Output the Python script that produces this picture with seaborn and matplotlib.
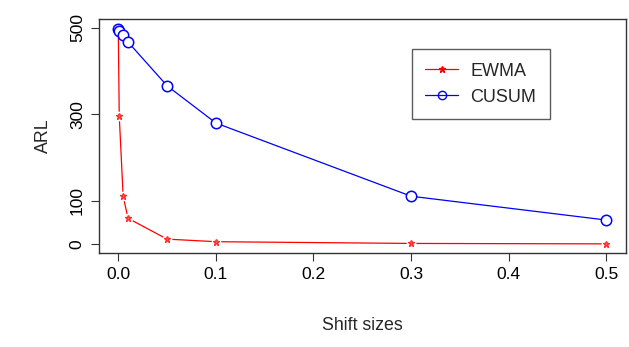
import matplotlib
matplotlib.use("Agg")
import matplotlib.pyplot as plt
import seaborn as sns
import pandas as pd
from matplotlib.lines import Line2D

shift_sizes = [0, 0.001, 0.005, 0.01, 0.05, 0.1, 0.3, 0.5]
ewma_arl = [497, 296, 111, 60, 12, 6, 2, 1]
cusum_arl = [498, 493, 484, 467, 366, 280, 111, 56]

df = pd.DataFrame({
    "shift": shift_sizes * 2,
    "ARL": ewma_arl + cusum_arl,
    "method": ["EWMA"] * len(shift_sizes) + ["CUSUM"] * len(shift_sizes),
})

sns.set_style("white")
plt.rcParams["font.family"] = ["Liberation Sans", "DejaVu Sans"]

fig = plt.figure(figsize=(6.29, 3.47), dpi=100)
ax = fig.add_axes([0.157, 0.271, 0.838, 0.674])

sns.lineplot(data=df, x="shift", y="ARL", hue="method",
             palette={"EWMA": "red", "CUSUM": "blue"}, linewidth=0.9,
             legend=False, ax=ax)
# point glyphs, R type="b" style (line gaps around points)
ewma = df[df["method"] == "EWMA"]
cusum = df[df["method"] == "CUSUM"]
ax.plot(ewma["shift"], ewma["ARL"], ls="none", marker="o", ms=7,
        mfc="white", mec="none")
ax.plot(ewma["shift"], ewma["ARL"], ls="none", marker="*", ms=5,
        color="#ff4040", mec="#ff3030", mfc="#ff7070")
ax.plot(cusum["shift"], cusum["ARL"], ls="none", marker="o", ms=7.5,
        mfc="white", mec="blue", mew=1.1)

ax.set_xlim(-0.02, 0.52)
ax.set_ylim(-20, 520)
ax.set_xticks([0, 0.1, 0.2, 0.3, 0.4, 0.5])
ax.set_xticklabels(["0.0", "0.1", "0.2", "0.3", "0.4", "0.5"])
ax.set_yticks([0, 100, 300, 500])
ax.set_yticklabels(["0", "100", "300", "500"], rotation=90, va="center")
ax.tick_params(direction="out", length=6, width=0.8, colors="#333333",
               labelcolor="black", labelsize=12.5, bottom=True, left=True,
               pad=4)
for s in ax.spines.values():
    s.set_visible(True)
    s.set_color("#333333")
    s.set_linewidth(1.0)

ax.set_xlabel("Shift sizes", fontsize=12.8, labelpad=25)
ax.set_ylabel("ARL", fontsize=12.8, labelpad=13)

handles = [
    Line2D([], [], color="red", marker="*", ms=5, lw=0.9),
    Line2D([], [], color="blue", marker="o", ms=6, mfc="none", lw=0.9),
]
leg = ax.legend(handles, ["EWMA", "CUSUM"], loc="upper left",
                bbox_to_anchor=(0.594, 0.872), fontsize=13, frameon=True,
                fancybox=False, edgecolor="#333333", handlelength=1.8,
                handletextpad=0.7, borderpad=0.75, labelspacing=0.5,
                borderaxespad=0)
leg.get_frame().set_linewidth(1.0)

fig.savefig("out.png", dpi=100)
